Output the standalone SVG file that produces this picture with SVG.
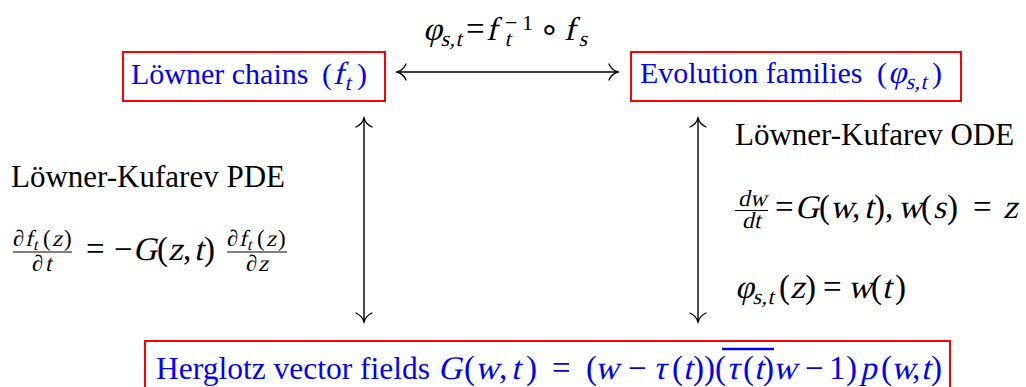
<svg xmlns="http://www.w3.org/2000/svg" width="1026" height="387" viewBox="0 0 1026 387">
<defs>
<style>
text{font-family:"Liberation Serif","Times New Roman",serif;font-size:30px;fill:#000;font-style:normal}
.blue{fill:#0000FF}
.m{font-size:33px}
.sm{font-size:22px}
.fr{font-size:23px}
.ss{font-size:16px}
.lb{font-size:31px}
.bt{font-size:31.5px}
.box{fill:none;stroke:#FF0000;stroke-width:2}
.conn{fill:none;stroke:#000;stroke-width:1.4;marker-start:url(#ah);marker-end:url(#ah)}
.bar{stroke:#000;stroke-width:1.2}
.obar{stroke:#0000FF;stroke-width:2.5}
</style>
<marker id="ah" viewBox="-11 -10 13 20" refX="0" refY="0" markerWidth="13" markerHeight="20" markerUnits="userSpaceOnUse" orient="auto-start-reverse">
<path d="M-9,-8 C-7,-3.5 -2.5,-0.7 0,0 C-2.5,0.7 -7,3.5 -9,8" fill="none" stroke="#000" stroke-width="1.3" stroke-linecap="round"/>
</marker>
</defs>
<rect width="1026" height="387" fill="#FFFFFF"/>

<g id="connectors">
<line class="conn" x1="397" y1="72" x2="618" y2="72"/>
<line class="conn" x1="364" y1="118" x2="364" y2="322"/>
<line class="conn" x1="698" y1="118" x2="698" y2="322"/>
<g id="label-top">
<text class="m" y="40"><tspan x="466">=</tspan><tspan class="sm" x="505" y="30">−</tspan><tspan class="sm" x="522" y="30">1</tspan><tspan x="539" y="40">∘</tspan></text>
<text class="m" transform="translate(0,40) skewX(-13)"><tspan x="423" y="0">φ</tspan><tspan class="sm" x="442" y="6">s</tspan><tspan class="sm" x="451" y="6">,</tspan><tspan class="sm" x="457" y="6">t</tspan><tspan x="486" y="0">f</tspan><tspan class="sm" x="506" y="6">t</tspan><tspan x="564" y="0">f</tspan><tspan class="sm" x="580" y="6">s</tspan></text>
</g>
</g>

<g id="loewner-chains">
<rect class="box" x="123" y="52" width="262" height="49"/>
<text class="blue" y="84"><tspan x="131">Löwner chains</tspan><tspan x="322">(</tspan><tspan x="357">)</tspan></text>
<text class="blue" transform="translate(0,84) skewX(-13)"><tspan x="333" y="0" style="font-size:32px">f</tspan><tspan class="sm" x="346" y="6">t</tspan></text>
</g>

<g id="evolution-families">
<rect class="box" x="631" y="52" width="330" height="49"/>
<text class="blue" y="83"><tspan x="640">Evolution families</tspan><tspan x="877">(</tspan><tspan x="932">)</tspan></text>
<text class="blue" transform="translate(0,83) skewX(-13)"><tspan x="888" y="0" style="font-size:32px">φ</tspan><tspan class="sm" x="907" y="6">s</tspan><tspan class="sm" x="916" y="6">,</tspan><tspan class="sm" x="922" y="6">t</tspan></text>
</g>

<g id="pde-label">
<text class="lb" x="11" y="187">Löwner-Kufarev PDE</text>
<text class="fr" y="246"><tspan x="13">∂</tspan><tspan x="43">(</tspan><tspan x="64">)</tspan></text>
<text class="fr" transform="translate(0,246) skewX(-13)"><tspan x="25" y="0">f</tspan><tspan class="ss" x="34" y="4">t</tspan><tspan x="52" y="0">z</tspan></text>
<line class="bar" x1="13" y1="252" x2="72" y2="252"/>
<text class="fr" y="271"><tspan x="32">∂</tspan></text>
<text class="fr" transform="translate(0,271) skewX(-13)"><tspan x="45" y="0">t</tspan></text>
<text class="m" y="260"><tspan x="86">=</tspan><tspan x="114">−</tspan><tspan x="157">(</tspan><tspan x="183">,</tspan><tspan x="204">)</tspan></text>
<text class="m" transform="translate(0,260) skewX(-13)"><tspan x="133" y="0">G</tspan><tspan x="168" y="0">z</tspan><tspan x="194" y="0">t</tspan></text>
<text class="fr" y="246"><tspan x="227">∂</tspan><tspan x="257">(</tspan><tspan x="278">)</tspan></text>
<text class="fr" transform="translate(0,246) skewX(-13)"><tspan x="239" y="0">f</tspan><tspan class="ss" x="248" y="4">t</tspan><tspan x="266" y="0">z</tspan></text>
<line class="bar" x1="227" y1="252" x2="287" y2="252"/>
<text class="fr" y="271"><tspan x="246">∂</tspan></text>
<text class="fr" transform="translate(0,271) skewX(-13)"><tspan x="258" y="0">z</tspan></text>
</g>

<g id="ode-label">
<text class="lb" x="735" y="145">Löwner-Kufarev ODE</text>
<text class="fr" transform="translate(0,206) skewX(-13)"><tspan x="738" y="0">d</tspan><tspan x="750" y="0">w</tspan></text>
<line class="bar" x1="735" y1="210.5" x2="768" y2="210.5"/>
<text class="fr" transform="translate(0,228) skewX(-13)"><tspan x="742" y="0">d</tspan><tspan x="754" y="0">t</tspan></text>
<text class="m" y="218"><tspan x="775">=</tspan><tspan x="819">(</tspan><tspan x="852">,</tspan><tspan x="874">)</tspan><tspan x="885">,</tspan><tspan x="921">(</tspan><tspan x="947">)</tspan><tspan x="973">=</tspan></text>
<text class="m" transform="translate(0,218) skewX(-13)"><tspan x="795" y="0">G</tspan><tspan x="830" y="0">w</tspan><tspan x="864" y="0">t</tspan><tspan x="898" y="0">w</tspan><tspan x="933" y="0">s</tspan><tspan x="1003" y="0">z</tspan></text>
<text class="m" y="298"><tspan x="779">(</tspan><tspan x="805">)</tspan><tspan x="823">=</tspan><tspan x="871">(</tspan><tspan x="895">)</tspan></text>
<text class="m" transform="translate(0,298) skewX(-13)"><tspan x="735" y="0">φ</tspan><tspan class="sm" x="754" y="6">s</tspan><tspan class="sm" x="763" y="6">,</tspan><tspan class="sm" x="769" y="6">t</tspan><tspan x="790" y="0">z</tspan><tspan x="848" y="0">w</tspan><tspan x="882" y="0">t</tspan></text>
</g>

<g id="herglotz-vector-fields">
<rect class="box" x="145" y="341" width="805" height="60"/>
<text class="blue bt" y="379"><tspan x="156">Herglotz vector fields</tspan></text>
<text class="blue m" y="379"><tspan x="464">(</tspan><tspan x="499">,</tspan><tspan x="526">)</tspan><tspan x="552">=</tspan><tspan x="586">(</tspan><tspan x="628">−</tspan><tspan x="672">(</tspan><tspan x="693">)</tspan><tspan x="704">)</tspan><tspan x="715">(</tspan><tspan x="743">(</tspan><tspan x="763">)</tspan><tspan x="805">−</tspan><tspan x="829">1</tspan><tspan x="846">)</tspan><tspan x="881">(</tspan><tspan x="912">,</tspan><tspan x="931">)</tspan></text>
<text class="blue m" transform="translate(0,379) skewX(-13)"><tspan x="438" y="0">G</tspan><tspan x="475" y="0">w</tspan><tspan x="511" y="0">t</tspan><tspan x="595" y="0">w</tspan><tspan x="653" y="0">τ</tspan><tspan x="683" y="0">t</tspan><tspan x="726" y="0">τ</tspan><tspan x="754" y="0">t</tspan><tspan x="773" y="0">w</tspan><tspan x="860" y="0">p</tspan><tspan x="891" y="0">w</tspan><tspan x="921" y="0">t</tspan></text>
<line class="obar" x1="722" y1="349" x2="774" y2="349"/>
</g>
</svg>
